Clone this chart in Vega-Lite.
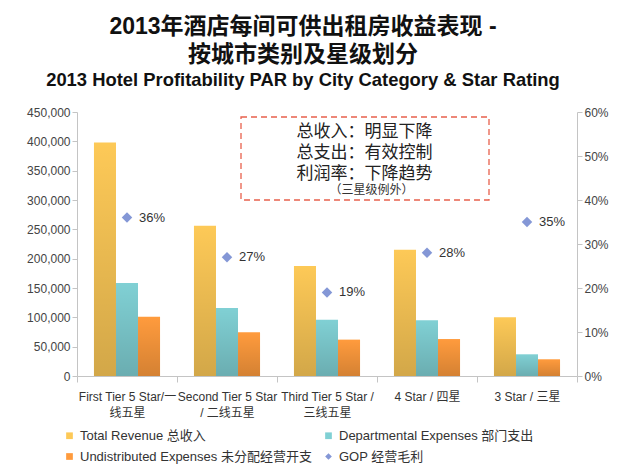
{
  "$schema": "https://vega.github.io/schema/vega-lite/v6.json",
  "width": 500,
  "height": 264,
  "padding": {"left": 26, "top": 15, "right": 5, "bottom": 5},
  "background": "white",
  "config": {
    "font": "Liberation Sans, Noto Sans CJK SC",
    "view": {"stroke": null},
    "axis": {"labelFont": "Liberation Sans, Noto Sans CJK SC", "labelColor": "#444", "labelFontSize": 12, "domainColor": "#c4c4c4", "tickColor": "#c4c4c4", "grid": false, "title": null}
  },
  "title": {
    "text": ["2013年酒店每间可供出租房收益表现 -", "按城市类别及星级划分"],
    "subtitle": "2013 Hotel Profitability PAR by City Category & Star Rating",
    "font": "Liberation Sans, Noto Sans CJK SC",
    "fontSize": 23, "fontWeight": "bold", "color": "#111", "lineHeight": 28,
    "subtitleFont": "Liberation Sans, Noto Sans CJK SC",
    "subtitleFontSize": 18.4, "subtitleFontWeight": "bold", "subtitleColor": "#111", "subtitlePadding": 4,
    "anchor": "middle", "dx": -24, "offset": 17
  },
  "datasets": {
    "bars": [
      {"category": "First Tier 5 Star/一|线五星", "series": "Total Revenue 总收入", "value": 398000},
      {"category": "First Tier 5 Star/一|线五星", "series": "Departmental Expenses 部门支出", "value": 158500},
      {"category": "First Tier 5 Star/一|线五星", "series": "Undistributed Expenses 未分配经营开支", "value": 101000},
      {"category": "Second Tier 5 Star|/ 二线五星", "series": "Total Revenue 总收入", "value": 256000},
      {"category": "Second Tier 5 Star|/ 二线五星", "series": "Departmental Expenses 部门支出", "value": 116000},
      {"category": "Second Tier 5 Star|/ 二线五星", "series": "Undistributed Expenses 未分配经营开支", "value": 74500},
      {"category": "Third Tier 5 Star /|三线五星", "series": "Total Revenue 总收入", "value": 187500},
      {"category": "Third Tier 5 Star /|三线五星", "series": "Departmental Expenses 部门支出", "value": 96000},
      {"category": "Third Tier 5 Star /|三线五星", "series": "Undistributed Expenses 未分配经营开支", "value": 62000},
      {"category": "4 Star / 四星", "series": "Total Revenue 总收入", "value": 215000},
      {"category": "4 Star / 四星", "series": "Departmental Expenses 部门支出", "value": 95000},
      {"category": "4 Star / 四星", "series": "Undistributed Expenses 未分配经营开支", "value": 63000},
      {"category": "3 Star / 三星", "series": "Total Revenue 总收入", "value": 100000},
      {"category": "3 Star / 三星", "series": "Departmental Expenses 部门支出", "value": 37000},
      {"category": "3 Star / 三星", "series": "Undistributed Expenses 未分配经营开支", "value": 28500}
    ],
    "gop": [
      {"category": "First Tier 5 Star/一|线五星", "series": "GOP 经营毛利", "gop": 0.36},
      {"category": "Second Tier 5 Star|/ 二线五星", "series": "GOP 经营毛利", "gop": 0.27},
      {"category": "Third Tier 5 Star /|三线五星", "series": "GOP 经营毛利", "gop": 0.19},
      {"category": "4 Star / 四星", "series": "GOP 经营毛利", "gop": 0.28},
      {"category": "3 Star / 三星", "series": "GOP 经营毛利", "gop": 0.35}
    ]
  },
  "layer": [
    {
      "data": {"name": "bars"},
      "mark": {"type": "bar"},
      "encoding": {
        "x": {"field": "category", "type": "nominal", "sort": null,
          "scale": {"paddingInner": 0, "paddingOuter": 0},
          "axis": {"labelAngle": 0, "tickBand": "extent", "labelExpr": "datum.value ? split(datum.value, '|') : ''", "tickSize": 6, "labelPadding": 9, "labelLineHeight": 16, "labelColor": "#333"}},
        "xOffset": {"field": "series", "type": "nominal",
          "scale": {"domain": ["Total Revenue 总收入", "Departmental Expenses 部门支出", "Undistributed Expenses 未分配经营开支"], "paddingInner": 0, "paddingOuter": 0.77}},
        "y": {"field": "value", "type": "quantitative",
          "scale": {"domain": [0, 450000]},
          "axis": {"labelExpr": "format(datum.value, ',')", "values": [0, 50000, 100000, 150000, 200000, 250000, 300000, 350000, 400000, 450000], "tickSize": 5}},
        "color": {"field": "series", "type": "nominal",
          "scale": {"domain": ["Total Revenue 总收入", "Departmental Expenses 部门支出", "Undistributed Expenses 未分配经营开支", "GOP 经营毛利"], "range": ["#FDC957", "#80D0D4", "#FF9B3D", "#8497D6"]},
          "legend": {"orient": "none", "direction": "horizontal", "legendX": -14, "legendY": 317, "columns": 2, "title": null, "labelFontSize": 13, "labelColor": "#333", "labelLimit": 400, "labelOffset": 4, "symbolSize": 45, "symbolType": "square", "columnPadding": 10, "rowPadding": 7,
            "encode": {"symbols": {"update": {"shape": {"signal": "datum.value === 'GOP 经营毛利' ? 'diamond' : 'square'"}}}}}}
      }
    },
    {
      "data": {"name": "bars"},
      "mark": {"type": "bar", "color": {"gradient": "linear", "x1": 0, "y1": 0, "x2": 0, "y2": 1, "stops": [{"offset": 0, "color": "rgba(0,0,0,0)"}, {"offset": 1, "color": "rgba(0,0,0,0.17)"}]}},
      "encoding": {
        "x": {"field": "category", "type": "nominal", "sort": null, "scale": {"paddingInner": 0, "paddingOuter": 0}, "axis": null},
        "xOffset": {"field": "series", "type": "nominal",
          "scale": {"domain": ["Total Revenue 总收入", "Departmental Expenses 部门支出", "Undistributed Expenses 未分配经营开支"], "paddingInner": 0, "paddingOuter": 0.77}},
        "y": {"field": "value", "type": "quantitative", "scale": {"domain": [0, 450000]}, "axis": null}
      }
    },
    {
      "data": {"name": "gop"},
      "mark": {"type": "point", "shape": "diamond", "filled": true, "size": 110, "opacity": 1},
      "encoding": {
        "x": {"field": "category", "type": "nominal", "sort": null, "scale": {"paddingInner": 0, "paddingOuter": 0}, "axis": null},
        "y": {"field": "gop", "type": "quantitative", "scale": {"domain": [0, 0.6]},
          "axis": {"orient": "right", "format": ".0%", "values": [0, 0.1, 0.2, 0.3, 0.4, 0.5, 0.6], "tickSize": 5}},
        "color": {"field": "series", "type": "nominal"}
      }
    },
    {
      "data": {"name": "gop"},
      "mark": {"type": "text", "align": "left", "dx": 12, "fontSize": 13, "color": "#333"},
      "encoding": {
        "x": {"field": "category", "type": "nominal", "sort": null, "scale": {"paddingInner": 0, "paddingOuter": 0}, "axis": null},
        "y": {"field": "gop", "type": "quantitative", "scale": {"domain": [0, 0.6]}, "axis": null},
        "text": {"field": "gop", "format": ".0%"}
      }
    },
    {
      "data": {"values": [{}]},
      "mark": {"type": "rect", "fill": "transparent", "stroke": "#E8604C", "strokeDash": [6, 4], "strokeWidth": 1.3},
      "encoding": {
        "x": {"datum": 1.64, "type": "quantitative", "scale": {"domain": [0, 5]}, "axis": null},
        "x2": {"datum": 4.12},
        "y": {"datum": 300000, "type": "quantitative", "scale": {"domain": [0, 450000]}, "axis": null},
        "y2": {"datum": 441500}
      }
    },
    {
      "data": {"values": [{}]},
      "mark": {"type": "text", "text": ["总收入：明显下降", "总支出：有效控制", "利润率：下降趋势"], "fontSize": 17, "lineHeight": 21, "baseline": "middle", "color": "#222"},
      "encoding": {
        "x": {"datum": 2.875, "type": "quantitative", "scale": {"domain": [0, 5]}, "axis": null},
        "y": {"datum": 416000, "type": "quantitative", "scale": {"domain": [0, 450000]}, "axis": null}
      }
    },
    {
      "data": {"values": [{}]},
      "mark": {"type": "text", "text": "（三星级例外）", "fontSize": 12, "baseline": "middle", "color": "#333"},
      "encoding": {
        "x": {"datum": 2.945, "type": "quantitative", "scale": {"domain": [0, 5]}, "axis": null},
        "y": {"datum": 317000, "type": "quantitative", "scale": {"domain": [0, 450000]}, "axis": null}
      }
    }
  ],
  "resolve": {"scale": {"x": "independent", "y": "independent"}}
}
